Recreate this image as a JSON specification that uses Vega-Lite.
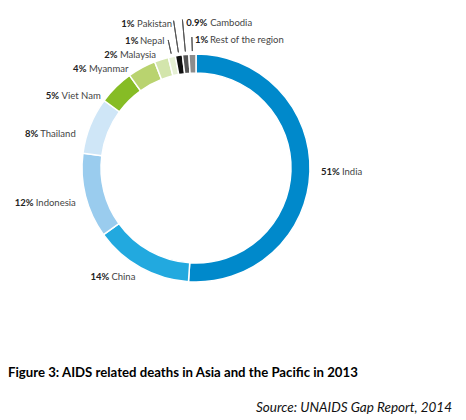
{
  "$schema": "https://vega.github.io/schema/vega-lite/v6.json",
  "padding": 0,
  "spacing": 0,
  "background": "white",
  "title": {
    "text": "Source: UNAIDS Gap Report, 2014",
    "orient": "bottom",
    "anchor": "end",
    "dx": 60,
    "offset": 22,
    "font": "Lato",
    "fontSize": 13.5,
    "fontStyle": "italic",
    "fontWeight": "normal",
    "color": "#111"
  },
  "vconcat": [
    {
      "width": 392,
      "height": 336,
      "title": {
        "text": "Figure 3: AIDS related deaths in Asia and the Pacific  in 2013",
        "orient": "bottom",
        "anchor": "start",
        "dx": 8,
        "offset": 31,
        "font": "Lato",
        "fontSize": 13.2,
        "fontWeight": "bold",
        "color": "#000"
      },
      "data": {
        "values": [
          {"country": "India", "pct": "51%", "share": 51, "rank": 1},
          {"country": "China", "pct": "14%", "share": 14, "rank": 2},
          {"country": "Indonesia", "pct": "12%", "share": 12, "rank": 3},
          {"country": "Thailand", "pct": "8%", "share": 8, "rank": 4},
          {"country": "Viet Nam", "pct": "5%", "share": 5, "rank": 5},
          {"country": "Myanmar", "pct": "4%", "share": 4, "rank": 6},
          {"country": "Malaysia", "pct": "2%", "share": 2, "rank": 7},
          {"country": "Nepal", "pct": "1%", "share": 1, "rank": 8},
          {"country": "Pakistan", "pct": "1%", "share": 1, "rank": 9},
          {"country": "Cambodia", "pct": "0.9%", "share": 0.9, "rank": 10},
          {"country": "Rest of the region", "pct": "1%", "share": 1, "rank": 11}
        ]
      },
      "encoding": {
        "theta": {"field": "share", "type": "quantitative", "stack": true},
        "order": {"field": "rank", "type": "quantitative"},
        "detail": {"field": "country", "type": "nominal"}
      },
      "layer": [
        {
          "mark": {"type": "arc", "outerRadius": 114, "innerRadius": 95, "stroke": "white", "strokeWidth": 1.5},
          "encoding": {
            "color": {
              "field": "country",
              "type": "nominal",
              "scale": {
                "domain": ["India", "China", "Indonesia", "Thailand", "Viet Nam", "Myanmar", "Malaysia", "Nepal", "Pakistan", "Cambodia", "Rest of the region"],
                "range": ["#0089cb", "#22a9df", "#9accee", "#cfe6f7", "#86bc25", "#b9d36f", "#d3e5ac", "#e6f0d5", "#111111", "#555555", "#8c8c8c"]
              },
              "legend": null
            }
          }
        },
        {
          "mark": {"type": "arc", "innerRadius": 117, "outerRadius": 131, "padAngle": 0.5, "fill": "transparent", "stroke": "#555", "strokeWidth": 1},
          "encoding": {
            "strokeOpacity": {"condition": {"test": "datum.country == 'Nepal' || datum.country == 'Rest of the region'", "value": 1}, "value": 0}
          }
        },
        {
          "mark": {"type": "arc", "innerRadius": 117, "outerRadius": 149, "padAngle": 0.5, "fill": "transparent", "stroke": "#555", "strokeWidth": 1},
          "encoding": {
            "strokeOpacity": {"condition": {"test": "datum.country == 'Pakistan' || datum.country == 'Cambodia'", "value": 1}, "value": 0}
          }
        },
        {
          "mark": {"type": "text", "radius": 125, "align": "left", "fontWeight": "bold", "fill": "#222"},
          "encoding": {"text": {"condition": {"test": "datum.country == 'India'", "field": "pct"}, "value": ""}}
        },
        {
          "mark": {"type": "text", "radius": 125, "align": "left", "fill": "#444", "dx": 21},
          "encoding": {"text": {"condition": {"test": "datum.country == 'India'", "field": "country"}, "value": ""}}
        },
        {
          "mark": {"type": "text", "radius": 125, "align": "right", "fill": "#444"},
          "encoding": {"text": {"condition": {"test": "datum.country == 'China'", "field": "country"}, "value": ""}}
        },
        {
          "mark": {"type": "text", "radius": 125, "align": "right", "fontWeight": "bold", "fill": "#222", "dx": -26},
          "encoding": {"text": {"condition": {"test": "datum.country == 'China'", "field": "pct"}, "value": ""}}
        },
        {
          "mark": {"type": "text", "radius": 125, "align": "right", "fill": "#444", "dx": 1, "dy": 4.5},
          "encoding": {"text": {"condition": {"test": "datum.country == 'Indonesia'", "field": "country"}, "value": ""}}
        },
        {
          "mark": {"type": "text", "radius": 125, "align": "right", "fontWeight": "bold", "fill": "#222", "dx": -41.3, "dy": 4.5},
          "encoding": {"text": {"condition": {"test": "datum.country == 'Indonesia'", "field": "pct"}, "value": ""}}
        },
        {
          "mark": {"type": "text", "radius": 125, "align": "right", "fill": "#444", "dx": -4.3, "dy": 13},
          "encoding": {"text": {"condition": {"test": "datum.country == 'Thailand'", "field": "country"}, "value": ""}}
        },
        {
          "mark": {"type": "text", "radius": 125, "align": "right", "fontWeight": "bold", "fill": "#222", "dx": -41.8, "dy": 13},
          "encoding": {"text": {"condition": {"test": "datum.country == 'Thailand'", "field": "pct"}, "value": ""}}
        },
        {
          "mark": {"type": "text", "radius": 125, "align": "right", "fill": "#444", "dx": -7.4, "dy": 16.5},
          "encoding": {"text": {"condition": {"test": "datum.country == 'Viet Nam'", "field": "country"}, "value": ""}}
        },
        {
          "mark": {"type": "text", "radius": 125, "align": "right", "fontWeight": "bold", "fill": "#222", "dx": -49, "dy": 16.5},
          "encoding": {"text": {"condition": {"test": "datum.country == 'Viet Nam'", "field": "pct"}, "value": ""}}
        },
        {
          "mark": {"type": "text", "radius": 125, "align": "right", "fill": "#444", "dx": -8, "dy": 11},
          "encoding": {"text": {"condition": {"test": "datum.country == 'Myanmar'", "field": "country"}, "value": ""}}
        },
        {
          "mark": {"type": "text", "radius": 125, "align": "right", "fontWeight": "bold", "fill": "#222", "dx": -50, "dy": 11},
          "encoding": {"text": {"condition": {"test": "datum.country == 'Myanmar'", "field": "pct"}, "value": ""}}
        },
        {
          "mark": {"type": "text", "radius": 125, "align": "right", "fill": "#444", "dx": -2, "dy": 6},
          "encoding": {"text": {"condition": {"test": "datum.country == 'Malaysia'", "field": "country"}, "value": ""}}
        },
        {
          "mark": {"type": "text", "radius": 125, "align": "right", "fontWeight": "bold", "fill": "#222", "dx": -40.5, "dy": 6},
          "encoding": {"text": {"condition": {"test": "datum.country == 'Malaysia'", "field": "pct"}, "value": ""}}
        },
        {
          "mark": {"type": "text", "radius": 130, "align": "right", "fill": "#444", "dx": -4},
          "encoding": {"text": {"condition": {"test": "datum.country == 'Nepal'", "field": "country"}, "value": ""}}
        },
        {
          "mark": {"type": "text", "radius": 130, "align": "right", "fontWeight": "bold", "fill": "#222", "dx": -30},
          "encoding": {"text": {"condition": {"test": "datum.country == 'Nepal'", "field": "pct"}, "value": ""}}
        },
        {
          "mark": {"type": "text", "radius": 146, "align": "right", "fill": "#444", "dx": -2},
          "encoding": {"text": {"condition": {"test": "datum.country == 'Pakistan'", "field": "country"}, "value": ""}}
        },
        {
          "mark": {"type": "text", "radius": 146, "align": "right", "fontWeight": "bold", "fill": "#222", "dx": -39.5},
          "encoding": {"text": {"condition": {"test": "datum.country == 'Pakistan'", "field": "pct"}, "value": ""}}
        },
        {
          "mark": {"type": "text", "radius": 146, "align": "left", "fontWeight": "bold", "fill": "#222", "dx": 3.5},
          "encoding": {"text": {"condition": {"test": "datum.country == 'Cambodia'", "field": "pct"}, "value": ""}}
        },
        {
          "mark": {"type": "text", "radius": 146, "align": "left", "fill": "#444", "dx": 27.5},
          "encoding": {"text": {"condition": {"test": "datum.country == 'Cambodia'", "field": "country"}, "value": ""}}
        },
        {
          "mark": {"type": "text", "radius": 128, "align": "left", "fontWeight": "bold", "fill": "#222", "dx": 3},
          "encoding": {"text": {"condition": {"test": "datum.country == 'Rest of the region'", "field": "pct"}, "value": ""}}
        },
        {
          "mark": {"type": "text", "radius": 128, "align": "left", "fill": "#444", "dx": 18},
          "encoding": {"text": {"condition": {"test": "datum.country == 'Rest of the region'", "field": "country"}, "value": ""}}
        }
      ]
    }
  ],
  "config": {
    "view": {"stroke": null},
    "text": {"font": "Lato", "fontSize": 9.5, "baseline": "middle"}
  }
}
